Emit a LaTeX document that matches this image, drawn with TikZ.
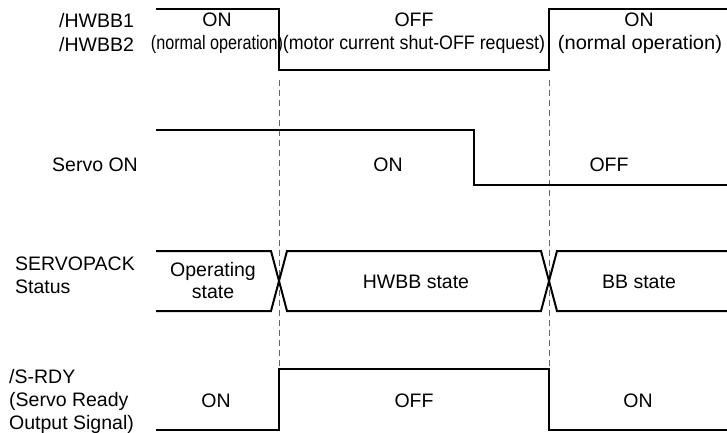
\documentclass[tikz,border=0pt]{standalone}
\usepackage{fontspec}
\setmainfont{Liberation Sans}
\begin{document}
\begin{tikzpicture}[x=1pt,y=-1pt,
  sig/.style={line width=2pt, line join=miter, line cap=rect},
  guide/.style={draw=black!60, line width=0.9pt, dash pattern=on 6pt off 4pt},
  lbl/.style={font=\fontsize{19.5}{21}\selectfont, inner sep=0pt, anchor=base west},
  txt/.style={font=\fontsize{19.5}{21}\selectfont, inner sep=0pt, anchor=base}]
\useasboundingbox (0,0) rectangle (727,432);

% guides
\coordinate (g1t) at (279,80);
\coordinate (g1b) at (279,369);
\coordinate (g2t) at (549,80);
\coordinate (g2b) at (549,369);
\draw[guide] (g1t) -- (g1b);
\draw[guide] (g2t) -- (g2b);

% /HWBB
\draw[sig] (157,9) -- (279,9) -- (279,70) -- (549,70) -- (549,9) -- (727,9);
\node[lbl] (h1) at (59,27) {/HWBB1};
\node[lbl] (h2) at (59,51) {/HWBB2};
\node[txt] (hon1) at (217,26) {ON};
\node[txt] (hon1b) at (217,49) {\scalebox{0.83}[1]{(normal operation)}};
\node[txt] (hoff) at (414,26) {OFF};
\node[txt] (hoffb) at (414,49) {\scalebox{0.913}[1]{(motor current shut-OFF request)}};
\node[txt] (hon2) at (639,26) {ON};
\node[txt] (hon2b) at (640,49) {\scalebox{1.03}[1]{(normal operation)}};

% Servo ON
\draw[sig] (157,130) -- (474,130) -- (474,185) -- (727,185);
\node[lbl] (s) at (52,171) {Servo ON};
\node[txt] (son) at (388,171) {ON};
\node[txt] (soff) at (609,171) {OFF};

% SERVOPACK status
\draw[sig] (157,251) -- (271,251) -- (287,311) -- (541,311) -- (557,251) -- (727,251);
\draw[sig] (157,311) -- (271,311) -- (287,251) -- (541,251) -- (557,311) -- (727,311);
\node[lbl] (p1) at (15,270) {SERVOPACK};
\node[lbl] (p2) at (15,293) {Status};
\node[txt] (op1) at (213,276) {Operating};
\node[txt] (op2) at (213,298) {state};
\node[txt] (hw) at (416,288) {HWBB state};
\node[txt] (bb) at (639,288) {BB state};

% /S-RDY
\draw[sig] (157,430) -- (279,430) -- (279,369) -- (549,369) -- (549,430) -- (727,430);
\node[lbl] (r1) at (9,383) {/S-RDY};
\node[lbl] (r2) at (9,406) {(Servo Ready};
\node[lbl] (r3) at (9,429) {Output Signal)};
\node[txt] (ron1) at (216,407) {ON};
\node[txt] (roff) at (414,407) {OFF};
\node[txt] (ron2) at (638,407) {ON};
\end{tikzpicture}
\end{document}
